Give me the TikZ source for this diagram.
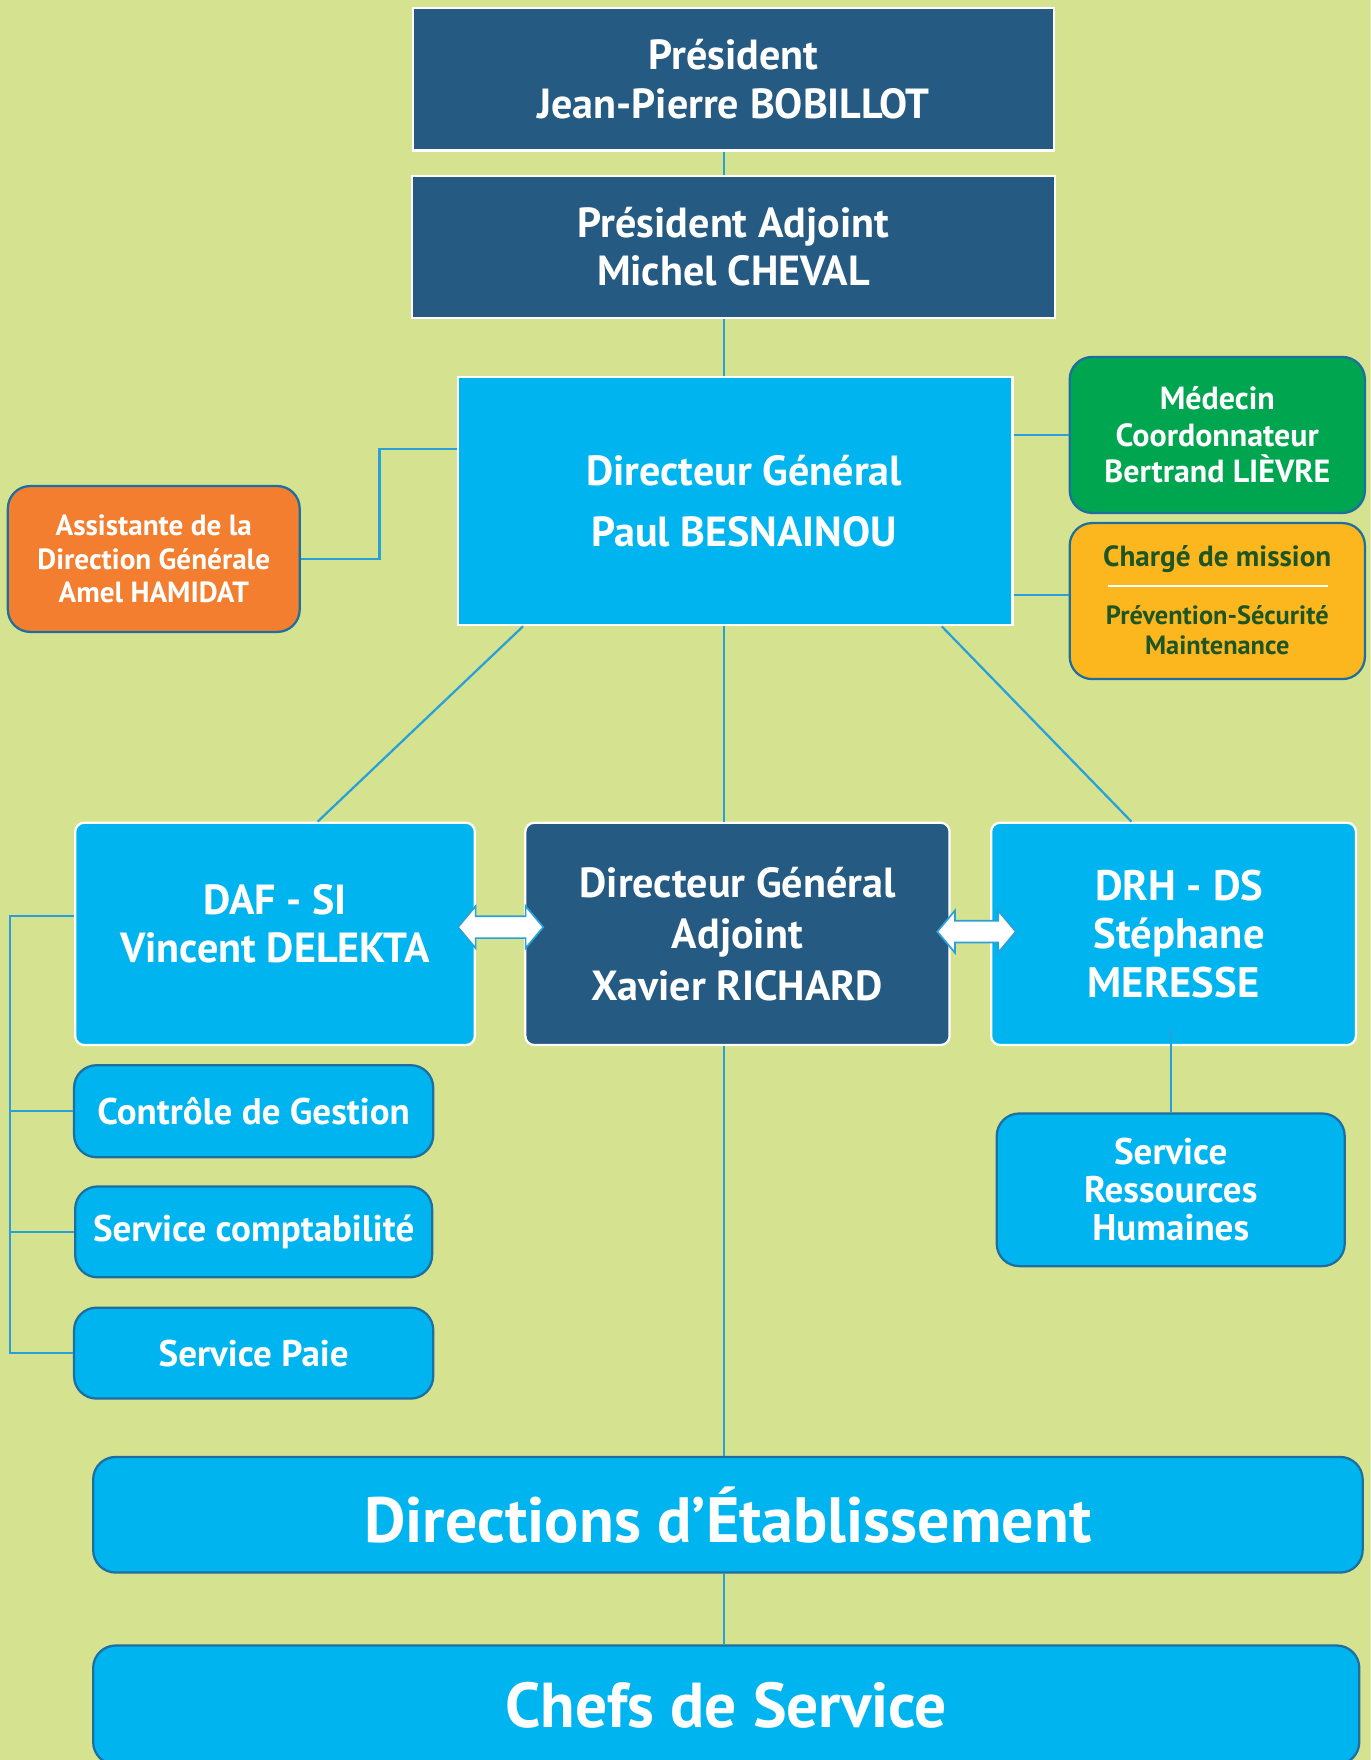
\documentclass[tikz,border=0pt]{standalone}
\usepackage{fontspec}
\setmainfont{PT Sans}
\usetikzlibrary{shapes.arrows,calc}
\definecolor{bg}{RGB}{213,227,145}
\definecolor{dblue}{RGB}{37,90,130}
\definecolor{cyanbox}{RGB}{0,180,240}
\definecolor{lineblue}{RGB}{41,160,215}
\definecolor{rimblue}{RGB}{30,110,160}
\definecolor{orangebox}{RGB}{243,126,47}
\definecolor{greenbox}{RGB}{0,165,80}
\definecolor{yellowbox}{RGB}{253,183,30}
\definecolor{dgreen}{RGB}{30,85,35}
\tikzset{
  sqbox/.style={draw=white, line width=2pt, inner sep=0pt, align=center, text=white},
  midbox/.style={draw=white, line width=2pt, rounded corners=8pt, fill=cyanbox, inner sep=0pt, align=center, text=white},
  rbox/.style={draw=rimblue, line width=2pt, rounded corners=20pt, inner sep=0pt, align=center, text=white},
  txt/.style={inner sep=0pt, align=center, text=white},
  conn/.style={draw=lineblue, line width=2pt},
  dblarrow/.style={double arrow, draw=lineblue, fill=white, line width=1.5pt, inner xsep=0pt, inner ysep=9pt, text height=0pt, text depth=0pt, text width=0pt, double arrow head extend=9pt, double arrow tip angle=100},
  fbig/.style={font=\bfseries\fontsize{37.5}{43}\selectfont},
}
\begin{document}
\begin{tikzpicture}[x=1pt,y=-1pt]
\clip (0,0) rectangle (1221,1568);
\fill[bg] (0,0) rectangle (1221,1568);
\coordinate (spine) at (645,0);

% top boxes
\node[sqbox, fill=dblue, minimum width=571pt, minimum height=127pt, fbig] (pres) at (653.5,70.5) {Président\\Jean-Pierre BOBILLOT};
\node[sqbox, fill=dblue, minimum width=573pt, minimum height=126pt, fbig] (padj) at (653.5,220) {Président Adjoint\\Michel CHEVAL};
\node[sqbox, fill=cyanbox, minimum width=494pt, minimum height=221pt, font=\bfseries\fontsize{37.5}{54}\selectfont] (dg) at (655,446.5) {\hspace*{16pt}Directeur Général\\\hspace*{16pt}Paul BESNAINOU};

% side boxes
\node[rbox, fill=orangebox, minimum width=260pt, minimum height=130pt, font=\bfseries\fontsize{26}{30}\selectfont] (asst) at (137,498) {Assistante de la\\Direction Générale\\Amel HAMIDAT};
\node[rbox, fill=greenbox, minimum width=263pt, minimum height=139pt, font=\bfseries\fontsize{28.5}{32.5}\selectfont] (med) at (1084.5,387.5) {Médecin\\Coordonnateur\\Bertrand LIÈVRE};
\node[rbox, fill=yellowbox, minimum width=263pt, minimum height=139pt] (chg) at (1084.5,535.5) {};
\node[txt, text=dgreen, font=\bfseries\fontsize{26}{30}\selectfont] (chgA) at (1084.5,498) {Chargé de mission};
\node[txt, text=dgreen, font=\bfseries\fontsize{23.5}{27}\selectfont] (chgB) at (1084.5,561.5) {Prévention-Sécurité\\Maintenance};
\draw[white, line width=2pt] (987,522) -- (1183,522);

% middle row
\node[midbox, minimum width=356pt, minimum height=198pt] (daf) at (245,832) {};
\node[txt, font=\bfseries\fontsize{37.5}{43}\selectfont] (daft) at ([yshift=9pt]daf.center) {DAF - SI\\Vincent DELEKTA};
\node[midbox, fill=dblue, minimum width=378pt, minimum height=198pt, font=\bfseries\fontsize{37.5}{46}\selectfont] (dga) at (657,832) {Directeur Général\\Adjoint\\Xavier RICHARD};
\node[midbox, minimum width=325pt, minimum height=198pt, font=\bfseries\fontsize{38}{43}\selectfont] (drh) at (1045.5,832) {\hspace*{10pt}DRH - DS\\\hspace*{10pt}Stéphane\\MERESSE};

% DAF services
\node[rbox, fill=cyanbox, minimum width=320pt, minimum height=82pt, font=\bfseries\fontsize{33}{36}\selectfont] (ctrl) at (226,990) {Contrôle de Gestion};
\node[rbox, fill=cyanbox, minimum width=318pt, minimum height=81pt, font=\bfseries\fontsize{33}{36}\selectfont] (compta) at (226,1097.5) {Service comptabilité};
\node[rbox, fill=cyanbox, minimum width=320pt, minimum height=81pt, font=\bfseries\fontsize{33}{36}\selectfont] (paie) at (226,1205.5) {Service Paie};

% RH service
\node[rbox, fill=cyanbox, minimum width=310pt, minimum height=136pt, font=\bfseries\fontsize{33}{34}\selectfont] (srh) at (1043,1060) {Service\\Ressources\\Humaines};

% bottom boxes
\node[rbox, fill=cyanbox, minimum width=1131pt, minimum height=103pt, font=\bfseries\fontsize{57}{64}\selectfont] (dir) at (648.5,1349.5) {Directions d’Établissement};
\node[rbox, fill=cyanbox, minimum width=1128pt, minimum height=106pt, font=\bfseries\fontsize{56.5}{64}\selectfont] (chefs) at (647,1519) {Chefs de Service};

% connectors
\draw[conn] (pres.south -| spine) -- (padj.north -| spine);
\draw[conn] (padj.south -| spine) -- (dg.north -| spine);
\coordinate (ae) at (338,400);
\draw[conn] (asst.east) -| (ae) -- (ae -| dg.west);
\draw[conn] (dg.east |- med.west) -- (med.west);
\draw[conn] ([yshift=5.5pt]dg.east |- chg.west) -- ([yshift=5.5pt]chg.west);
\draw[conn] ([xshift=59pt]dg.south west) -- ([xshift=38pt]daf.north);
\draw[conn] ([xshift=-64pt]dg.south east) -- ([xshift=-37.5pt]drh.north);
\draw[conn] (dg.south -| spine) -- (dga.north -| spine);
\draw[conn] (dga.south -| spine) -- (dir.north -| spine);
\draw[conn] (dir.south -| spine) -- (chefs.north -| spine);
\draw[conn] ([yshift=16pt]daf.west) -- ++(-57,0) |- (paie.west);
\coordinate (lb) at (10,0);
\draw[conn] (ctrl.west) -- (ctrl.west -| lb);
\draw[conn] (compta.west) -- (compta.west -| lb);
\draw[conn] (srh.north) -- ([yshift=16pt]srh.north |- drh.south);

% double arrows
\node[dblarrow, minimum height=76pt, minimum width=36pt] (arr1) at (446,826) {};
\node[dblarrow, minimum height=70pt, minimum width=36pt] (arr2) at (870,830) {};
\end{tikzpicture}
\end{document}
